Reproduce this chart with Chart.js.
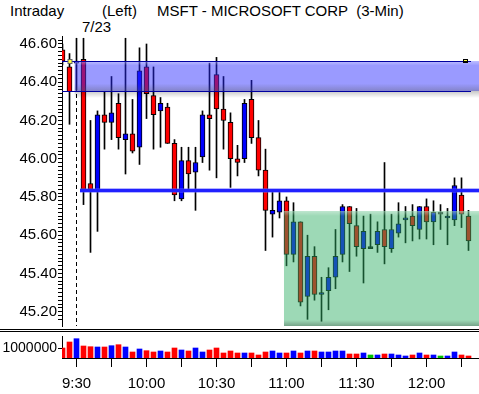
<!DOCTYPE html>
<html>
<head>
<meta charset="utf-8">
<title>MSFT Intraday</title>
<script src="https://cdn.jsdelivr.net/npm/chart.js@4.4.1/dist/chart.umd.min.js"></script>
<style>
  body { margin: 0; background: #fff; }
  #wrap { position: relative; width: 479px; height: 394px; overflow: hidden; background: #fff;
          font-family: "Liberation Sans", Arial, sans-serif; color: #000; }
  .txt { position: absolute; font-size: 15px; line-height: 15px; white-space: pre; }
  canvas { position: absolute; left: 0; }
  .rule { position: absolute; left: 0; width: 479px; height: 1px; background: #000; }
</style>
</head>
<body>
<div id="wrap">
  <div class="txt" style="left:10px;top:3px">Intraday</div>
  <div class="txt" style="left:102px;top:3px">(Left)</div>
  <div class="txt" style="left:157px;top:3px">MSFT - MICROSOFT CORP  (3-Min)</div>
  <div class="txt" style="left:82px;top:19px">7/23</div>
  <canvas id="priceChart" width="479" height="328" style="top:0"></canvas>
  <div class="rule" style="top:329px"></div>
  <div class="rule" style="top:331px"></div>
  <canvas id="volChart" width="479" height="61" style="top:333px"></canvas>
</div>
<script>
// 3-min bars: two from 7/22 close, then 7/23 from 9:30 to 12:18
const opens = [46.57,46.48,46.50,46.52,45.87,45.83,46.23,46.19,46.29,46.10,
  46.13,46.06,46.48,46.33,46.25,46.27,46.08,45.79,45.99,45.93,
  46.01,46.23,46.44,46.26,46.19,46.00,46.00,46.31,46.11,45.94,
  45.71,45.72,45.78,45.50,45.67,45.28,45.49,45.29,45.31,45.38,
  45.50,45.75,45.65,45.53,45.53,45.55,45.63,45.53,45.61,45.68,
  45.70,45.63,45.75,45.67,45.71,45.69,45.68,45.81,45.70];
const highs = [46.60,46.55,46.63,46.63,46.20,46.25,46.35,46.43,46.34,46.63,
  46.31,46.58,46.60,46.48,46.32,46.29,46.10,46.06,46.06,46.06,
  46.25,46.50,46.53,46.43,46.24,46.07,46.31,46.41,46.20,46.05,
  45.84,45.83,45.80,45.77,45.67,45.60,45.54,45.38,45.43,45.63,
  45.76,45.75,45.74,45.70,45.71,45.67,45.98,45.71,45.77,45.75,
  45.76,45.75,45.79,45.78,45.76,45.74,45.90,45.90,45.73];
const lows = [46.49,46.18,46.36,45.76,45.51,45.62,46.05,46.10,46.05,45.92,
  46.03,45.97,46.21,46.05,46.06,46.08,45.78,45.78,45.83,45.73,
  45.98,45.94,45.90,46.05,45.85,45.91,45.98,46.08,45.91,45.52,
  45.59,45.69,45.44,45.46,45.23,45.16,45.26,45.15,45.21,45.32,
  45.46,45.41,45.49,45.35,45.53,45.51,45.45,45.51,45.59,45.56,
  45.57,45.58,45.58,45.55,45.63,45.55,45.65,45.64,45.52];
const closes = [46.51,46.35,46.51,45.84,45.84,46.23,46.19,46.24,46.11,46.13,
  46.04,46.46,46.34,46.23,46.29,46.08,45.81,45.99,45.92,45.98,
  46.23,46.21,46.26,46.20,46.00,45.98,46.29,46.11,45.94,45.73,
  45.73,45.78,45.50,45.67,45.25,45.49,45.29,45.30,45.38,45.49,
  45.75,45.66,45.54,45.62,45.53,45.62,45.54,45.63,45.66,45.69,
  45.65,45.75,45.67,45.72,45.71,45.70,45.86,45.71,45.57];
const volumes = [1000000,1600000,1930000,1200000,1130000,1100000,1100000,1230000,1330000,1100000,
  600000,900000,730000,600000,700000,600000,1000000,800000,700000,1000000,
  600000,800000,1000000,500000,700000,500000,500000,500000,300000,600000,
  700000,500000,500000,700000,500000,700000,700000,600000,600000,700000,
  700000,400000,400000,500000,300000,300000,400000,400000,300000,200000,
  300000,500000,300000,300000,200000,200000,600000,300000,200000];

// x-axis tick labels (bar index of each label)
const timeLabels = ['9:30','10:00','10:30','11:00','11:30','12:00'];
const timeLabelBars = [2,12,22,32,42,52];
const halfHourBars = [7,17,27,37,47,57];

// drawn levels
const bandTop = 46.51, bandBottom = 46.355;
const supportLevel = 45.835;
const boxTop = 45.727;
const dateBar = 2;

const up = '#0000ff', down = '#ff0000', flat = '#00c000';
const dirColor = (o, c, flatCol) => c > o ? up : (c < o ? down : flatCol);

const bars = opens.map((o, k) => k);
const wicks = bars.map(k => ({ x: k, y: [lows[k], highs[k]] }));
const bodies = bars.map(k => ({ x: k, y: [Math.min(opens[k], closes[k]), Math.max(opens[k], closes[k])] }));
const bodyColors = bars.map(k => dirColor(opens[k], closes[k], '#000'));
const volBars = bars.map(k => ({ x: k, y: volumes[k] }));
const volColors = bars.map(k => dirColor(opens[k], closes[k], flat));

const priceTicks = [];
for (let c = 4516; c <= 4662; c += 2) priceTicks.push(c / 100);
const isMajor = v => Math.round(v * 100) % 20 === 0;

Chart.defaults.font.family = '"Liberation Sans", Arial, sans-serif';
Chart.defaults.color = '#000';

const xMin = -0.5 / 7, xMax = xMin + 417 / 7;
const priceMax = 46.6418, priceMin = 45.1251;

// keep the plot area where the axes say, no label padding
const noPad = ax => { ax.paddingTop = 0; ax.paddingBottom = 0; ax.paddingLeft = 0; ax.paddingRight = 0; };

const priceOverlay = {
  id: 'priceOverlay',
  beforeDatasetsDraw(chart) {
    const { ctx, chartArea: a, scales: { x } } = chart;
    const dx = x.getPixelForValue(dateBar);
    ctx.save();
    ctx.strokeStyle = '#000';
    ctx.lineWidth = 1;
    ctx.setLineDash([4, 3]);
    ctx.beginPath();
    ctx.moveTo(dx, a.top + 2);
    ctx.lineTo(dx, a.bottom);
    ctx.stroke();
    ctx.restore();
  },
  afterDatasetsDraw(chart) {
    const { ctx, chartArea: a, scales: { x, y } } = chart;
    ctx.save();

    // green box
    const gx = x.getPixelForValue(31.64), gy = Math.round(y.getPixelForValue(boxTop));
    ctx.fillStyle = 'rgba(47,175,100,0.47)';
    ctx.fillRect(gx, gy, a.right - gx, a.bottom - gy);
    let g = ctx.createLinearGradient(0, gy, 0, gy + 5);
    g.addColorStop(0, 'rgba(255,255,255,0.35)');
    g.addColorStop(1, 'rgba(255,255,255,0)');
    ctx.fillStyle = g;
    ctx.fillRect(gx, gy, a.right - gx, 5);
    g = ctx.createLinearGradient(0, a.bottom - 6, 0, a.bottom);
    g.addColorStop(0, 'rgba(0,0,0,0)');
    g.addColorStop(1, 'rgba(0,0,0,0.25)');
    ctx.fillStyle = g;
    ctx.fillRect(gx, a.bottom - 6, a.right - gx, 6);

    // purple band
    const bt = Math.round(y.getPixelForValue(bandTop)), bb = Math.round(y.getPixelForValue(bandBottom));
    const bx = x.getPixelForValue(1.74);
    ctx.fillStyle = 'rgba(40,40,255,0.47)';
    ctx.fillRect(bx, bt, a.right - bx, bb - bt);
    g = ctx.createLinearGradient(0, bt, 0, bb);
    g.addColorStop(0, 'rgba(255,255,255,0.35)');
    g.addColorStop(0.15, 'rgba(255,255,255,0)');
    g.addColorStop(0.75, 'rgba(80,80,80,0)');
    g.addColorStop(1, 'rgba(80,80,80,0.3)');
    ctx.fillStyle = g;
    ctx.fillRect(bx, bt, a.right - bx, bb - bt);
    g = ctx.createLinearGradient(0, bb, 0, bb + 7);
    g.addColorStop(0, 'rgba(0,0,0,0.22)');
    g.addColorStop(1, 'rgba(0,0,0,0)');
    ctx.fillStyle = g;
    ctx.fillRect(bx, bb, a.right - bx, 7);
    const lineEnd = x.getPixelForValue(58.36);
    ctx.strokeStyle = '#0000a0';
    ctx.lineWidth = 1;
    ctx.beginPath();
    ctx.moveTo(a.left, bt + 0.5); ctx.lineTo(lineEnd, bt + 0.5);
    ctx.moveTo(a.left, bb + 0.5); ctx.lineTo(lineEnd, bb + 0.5);
    ctx.stroke();

    // end markers of the band line
    const mx1 = x.getPixelForValue(1), mx2 = x.getPixelForValue(57.5);
    ctx.fillStyle = '#666';
    ctx.fillRect(mx1 - 2, bt - 2, 5, 5);
    ctx.fillStyle = '#ffff40';
    ctx.fillRect(mx1 - 1, bt - 1, 3, 3);
    ctx.fillStyle = '#000';
    ctx.fillRect(mx2 - 2, bt - 2, 5, 4);
    ctx.fillStyle = '#ffff40';
    ctx.fillRect(mx2 - 1, bt - 1, 3, 1);

    // support line
    const lx = x.getPixelForValue(2.5), ly = Math.round(y.getPixelForValue(supportLevel));
    ctx.fillStyle = 'rgba(90,90,255,0.45)';
    ctx.fillRect(lx, ly - 2, a.right - lx, 5);
    ctx.fillStyle = '#2020ff';
    ctx.fillRect(lx, ly - 1, a.right - lx, 3);
    ctx.restore();
  }
};

new Chart(document.getElementById('priceChart'), {
  type: 'bar',
  data: {
    datasets: [
      { label: 'body', data: bodies, backgroundColor: bodyColors, borderColor: '#000', borderWidth: 1,
        borderSkipped: false, barThickness: 5, minBarLength: 2, grouped: false, order: 1 },
      { label: 'wick', data: wicks, backgroundColor: '#000', borderWidth: 0,
        barThickness: 1, grouped: false, order: 2 }
    ]
  },
  options: {
    responsive: false,
    animation: false,
    events: [],
    layout: { autoPadding: false, padding: { top: 36, bottom: 2, left: 0, right: 0 } },
    plugins: { legend: { display: false }, tooltip: { enabled: false } },
    scales: {
      x: { type: 'linear', min: xMin, max: xMax, offset: false, display: false, grid: { offset: false },
        afterFit: noPad },
      y: {
        min: priceMin, max: priceMax,
        afterBuildTicks: ax => { ax.ticks = priceTicks.map(v => ({ value: v })); },
        afterFit: ax => { ax.width = 62; noPad(ax); },
        ticks: { autoSkip: false, padding: 1, color: '#000', font: { size: 15 },
          callback: v => isMajor(v) ? v.toFixed(2) : '' },
        grid: { drawOnChartArea: false, tickLength: 4, color: '#000' },
        border: { color: '#000' }
      }
    }
  },
  plugins: [priceOverlay]
});

new Chart(document.getElementById('volChart'), {
  type: 'bar',
  data: {
    datasets: [{ label: 'volume', data: volBars, backgroundColor: volColors, borderWidth: 0, barThickness: 5 }]
  },
  options: {
    responsive: false,
    animation: false,
    events: [],
    layout: { autoPadding: false, padding: { top: 3, left: 0, right: 0, bottom: 0 } },
    plugins: { legend: { display: false }, tooltip: { enabled: false } },
    scales: {
      x: {
        type: 'linear', min: xMin, max: xMax, offset: false,
        afterBuildTicks: ax => { ax.ticks = timeLabelBars.concat(halfHourBars).sort((a, b) => a - b).map(v => ({ value: v })); },
        afterFit: ax => { ax.height = 36; noPad(ax); },
        ticks: { autoSkip: false, maxRotation: 0, padding: 8, color: '#000', font: { size: 15 },
          callback: v => { const i = timeLabelBars.indexOf(v); return i >= 0 ? timeLabels[i] : ''; } },
        grid: { drawOnChartArea: false, offset: false, tickLength: 9, color: '#000' },
        border: { color: '#000' }
      },
      y: {
        min: 0, max: 2200000,
        afterBuildTicks: ax => { ax.ticks = [{ value: 1000000 }]; },
        afterFit: ax => { ax.width = 62; noPad(ax); },
        ticks: { padding: 1, color: '#000', font: { size: 14 }, callback: v => String(v) },
        grid: { drawOnChartArea: false, tickLength: 4, color: '#000' },
        border: { color: '#000' }
      }
    }
  }
});
</script>
</body>
</html>
